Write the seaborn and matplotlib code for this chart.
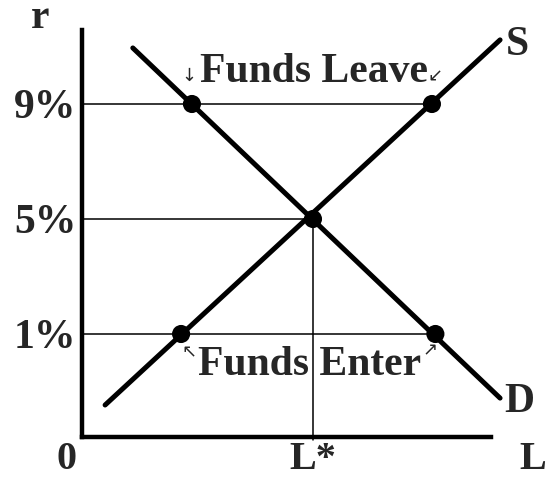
import numpy as np
import pandas as pd
import seaborn as sns
import matplotlib.pyplot as plt

# demand / supply curve endpoints (L, r)
d_L = [2.2, 18.1]
d_r = [10.95, -1.23]
s_L = [1.0, 18.1]
s_r = [-1.47, 11.23]

# marked points
pt_L = [4.76, 15.15, 10.0, 4.29, 15.3]
pt_r = [9, 9, 5, 1, 1]

# rate levels and their guide-line ends
rates = [9, 5, 1]
rate_labels = ['9%', '5%', '1%']
guide_end = [15.15, 10.0, 15.3]
L_star = 10.0

sns.set_style('white')
plt.rcParams['font.family'] = ['Liberation Serif', 'DejaVu Serif', 'DejaVu Sans']
plt.rcParams['font.weight'] = 'bold'

fig = plt.figure(figsize=(5.51, 4.79), dpi=100)
ax = fig.add_axes([82 / 551, 42 / 479, 428 / 551, 407 / 479])
ax.set_xlim(0, 18.53)
ax.set_ylim(-2.583, 11.574)

# guide lines
for r, end in zip(rates, guide_end):
    ax.plot([0, end], [r, r], color='black', lw=1.1, zorder=1)
ax.plot([L_star, L_star], [5, -2.7], color='black', lw=1.1, zorder=1, clip_on=False)

sns.lineplot(x=d_L, y=d_r, ax=ax, color='black', lw=3.6, zorder=2)
sns.lineplot(x=s_L, y=s_r, ax=ax, color='black', lw=3.6, zorder=2)
sns.scatterplot(x=pt_L, y=pt_r, ax=ax, color='black', s=170, edgecolor='none', zorder=3)

for side in ['top', 'right']:
    ax.spines[side].set_visible(False)
for side in ['left', 'bottom']:
    ax.spines[side].set_linewidth(3.2)
    ax.spines[side].set_color('black')
ax.spines['bottom'].set_bounds(0, 17.7)
ax.spines['left'].set_bounds(-2.583, 11.574)

ax.set_xticks([])
ax.set_yticks(rates)
ax.set_yticklabels(rate_labels, fontsize=30, fontweight='bold')
ax.tick_params(axis='y', length=0, pad=4)
ax.set_xlabel('')
ax.set_ylabel('')

fs = 30
lab = dict(fontsize=fs, fontweight='bold', ha='center', va='center', clip_on=False)
ax.text(-1.82, 11.99, 'r', **lab)
ax.text(18.83, 11.05, 'S', **lab)
ax.text(18.92, -1.37, 'D', **lab)

# bottom labels sit right at the lower edge of the figure
bot = dict(fontsize=29, fontweight='bold', ha='center', va='bottom', clip_on=False)
ax.text(-0.69, -4.0, '0', **bot)
ax.text(L_star, -4.0, 'L*', **bot)
ax.text(19.5, -4.0, 'L', **bot)

ax.text(10.04, 10.11, 'Funds Leave', **lab)
ax.text(9.87, -0.08, 'Funds Enter', **lab)

arr_kw = dict(fontsize=13, fontweight='normal', ha='center', va='center',
              family=['DejaVu Sans'])
ax.text(4.63, 9.97, '↓', **arr_kw)
ax.text(15.3, 9.97, '↙', **arr_kw)
ax.text(4.63, 0.37, '↖', **arr_kw)
ax.text(15.06, 0.44, '↗', **arr_kw)

fig.savefig('out.png', dpi=100, facecolor='white')
